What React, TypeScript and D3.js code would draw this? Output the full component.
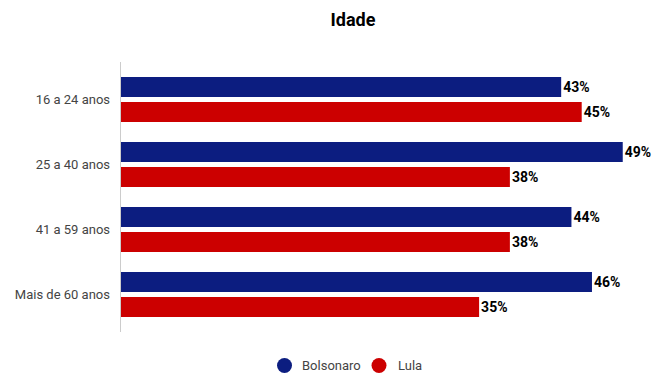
import React from "react";
import * as d3 from "d3";

const categories = ["16 a 24 anos", "25 a 40 anos", "41 a 59 anos", "Mais de 60 anos"];
const seriesNames = ["Bolsonaro", "Lula"];
const bolsonaro = [43, 49, 44, 46];
const lula = [45, 38, 38, 35];
const colors = ["#0c1d80", "#cc0000"];

const W = 658;
const H = 383;

export default function App() {
  const x = d3.scaleLinear().domain([0, 50]).range([120, 120 + 10.26 * 50]);
  const y = d3.scaleBand<string>().domain(categories).range([67, 327]).padding(0);
  const inner = d3
    .scaleBand<string>()
    .domain(seriesNames)
    .range([0, y.step()])
    .paddingInner(0.2)
    .paddingOuter(0.4);
  const values = [bolsonaro, lula];
  const font = "Roboto, sans-serif";

  return (
    <svg width={W} height={H} style={{ position: "absolute", left: 0, top: 0, fontFamily: font }}>
      <rect width={W} height={H} fill="#fff" />
      <text x={353} y={26} textAnchor="middle" fontSize={18} fontWeight="bold" fill="#000">
        Idade
      </text>
      <line x1={120.5} x2={120.5} y1={62} y2={332} stroke="#ccc" strokeWidth={1} />
      {categories.map((c, i) => (
        <g key={c}>
          <text
            x={110}
            y={(y(c) as number) + y.step() / 2}
            dy="0.35em"
            textAnchor="end"
            fontSize={13}
            fill="#444"
          >
            {c}
          </text>
          {seriesNames.map((s, j) => {
            const v = values[j][i];
            const by = (y(c) as number) + (inner(s) as number);
            return (
              <g key={s}>
                <rect x={x(0) + 1} y={by} width={x(v) - x(0) - 1} height={inner.bandwidth()} fill={colors[j]} />
                <text
                  x={x(v) + 2}
                  y={by + inner.bandwidth() / 2}
                  dy="0.35em"
                  fontSize={14}
                  fontWeight="bold"
                  fill="#000"
                >
                  {v}%
                </text>
              </g>
            );
          })}
        </g>
      ))}
      <g>
        <circle cx={284.5} cy={365.5} r={7.5} fill={colors[0]} />
        <text x={302} y={365.5} dy="0.35em" fontSize={13} fill="#444">
          {seriesNames[0]}
        </text>
        <circle cx={379} cy={365.5} r={7.5} fill={colors[1]} />
        <text x={398} y={365.5} dy="0.35em" fontSize={13} fill="#444">
          {seriesNames[1]}
        </text>
      </g>
    </svg>
  );
}
